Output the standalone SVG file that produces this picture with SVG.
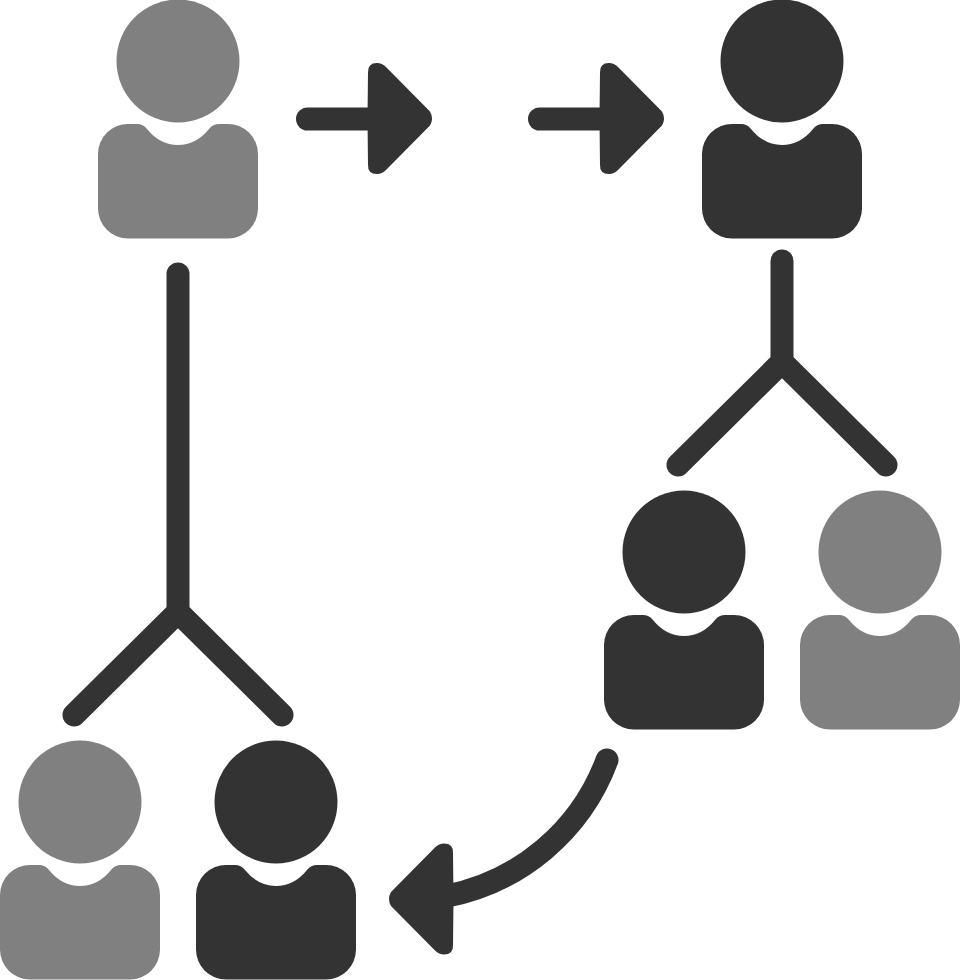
<svg xmlns="http://www.w3.org/2000/svg" xmlns:xlink="http://www.w3.org/1999/xlink" width="960" height="980" viewBox="0 0 960 980">
<style>
.dark{fill:#333333}
.grey{fill:#808080}
.line{fill:none;stroke:#333333;stroke-width:23;stroke-linecap:round;stroke-linejoin:miter}
.head{fill:#333333}
</style>
<defs>
<g id="person">
<circle cx="0" cy="61" r="61.500"/>
<path d="M-50 124H-41Q-35 124 -31 129Q-18 145 0 145Q18 145 31 129Q35 124 41 124H50A30 30 0 0 1 80 154V208.500A30 30 0 0 1 50 238.500H-50A30 30 0 0 1 -80 208.500V154A30 30 0 0 1 -50 124Z"/>
</g>
<path id="arrowhead" d="M0 -46Q-0.500 -55.500 9 -55.500Q14 -55.500 18 -51.500L62 -7Q66 0 62 7L18 51.500Q14 55.500 9 55.500Q-0.500 55.500 0 46Q-1 0 0 -46Z"/>
</defs>
<rect width="960" height="980" fill="#ffffff"/>
<g id="connectors">
<path class="line" d="M307.500 119H375"/>
<use xlink:href="#arrowhead" href="#arrowhead" class="head" transform="translate(368 118.500)"/>
<path class="line" d="M539.500 119H607"/>
<use xlink:href="#arrowhead" href="#arrowhead" class="head" transform="translate(600 118.500)"/>
<path class="line" d="M178 274V612M74 715L178 612L282 715"/>
<path class="line" d="M782 261V362M678 465L782 362L886 465"/>
<path class="line" d="M607 760A215 215 0 0 1 445 896.500"/>
<use xlink:href="#arrowhead" href="#arrowhead" class="head" transform="translate(453 899) scale(-1 1)"/>
</g>
<g id="person-top-left" class="grey" transform="translate(178 0)"><use xlink:href="#person" href="#person"/></g>
<g id="person-top-right" class="dark" transform="translate(782 0)"><use xlink:href="#person" href="#person"/></g>
<g id="person-right-a" class="dark" transform="translate(684 491)"><use xlink:href="#person" href="#person"/></g>
<g id="person-right-b" class="grey" transform="translate(880 491)"><use xlink:href="#person" href="#person"/></g>
<g id="person-left-a" class="grey" transform="translate(80 741)"><use xlink:href="#person" href="#person"/></g>
<g id="person-left-b" class="dark" transform="translate(276 741)"><use xlink:href="#person" href="#person"/></g>
</svg>
